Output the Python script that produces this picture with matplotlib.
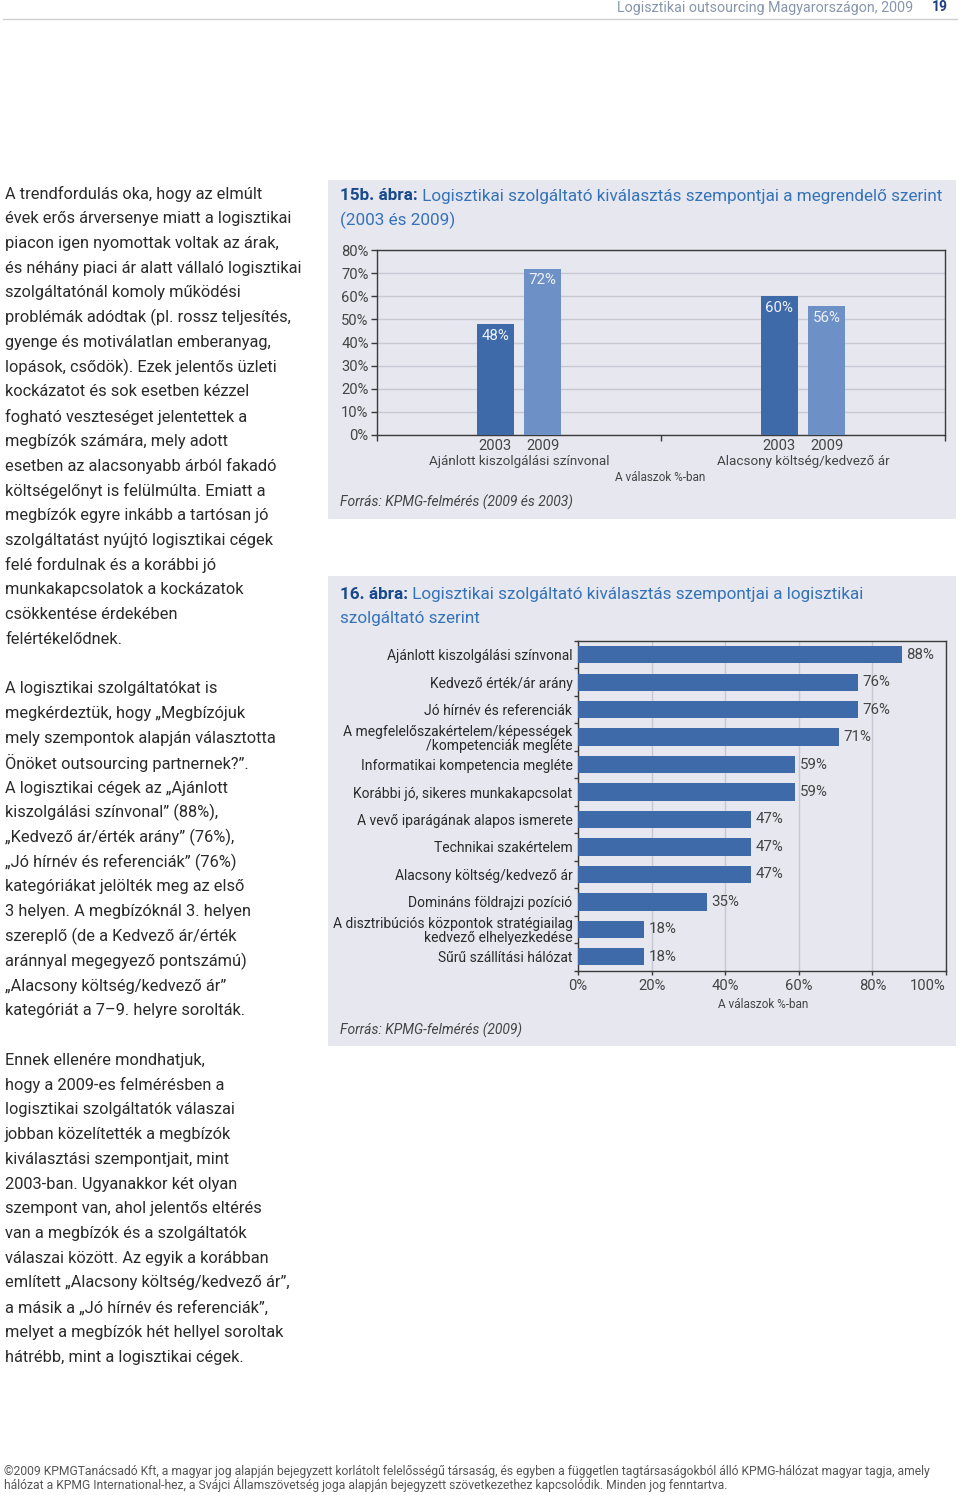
import matplotlib
matplotlib.use('Agg')
import matplotlib.pyplot as plt
from matplotlib.patches import Rectangle
from matplotlib.lines import Line2D

# ---------------- data ----------------
header_title = "Logisztikai outsourcing Magyarországon, 2009"
page_number = "19"

para1_lines = [
    "A trendfordulás oka, hogy az elmúlt",
    "évek erős árversenye miatt a logisztikai",
    "piacon igen nyomottak voltak az árak,",
    "és néhány piaci ár alatt vállaló logisztikai",
    "szolgáltatónál komoly működési",
    "problémák adódtak (pl. rossz teljesítés,",
    "gyenge és motiválatlan emberanyag,",
    "lopások, csődök). Ezek jelentős üzleti",
    "kockázatot és sok esetben kézzel",
    "fogható veszteséget jelentettek a",
    "megbízók számára, mely adott",
    "esetben az alacsonyabb árból fakadó",
    "költségelőnyt is felülmúlta. Emiatt a",
    "megbízók egyre inkább a tartósan jó",
    "szolgáltatást nyújtó logisztikai cégek",
    "felé fordulnak és a korábbi jó",
    "munkakapcsolatok a kockázatok",
    "csökkentése érdekében",
    "felértékelődnek.",
]
para2_lines = [
    "A logisztikai szolgáltatókat is",
    "megkérdeztük, hogy „Megbízójuk",
    "mely szempontok alapján választotta",
    "Önöket outsourcing partnernek?”.",
    "A logisztikai cégek az „Ajánlott",
    "kiszolgálási színvonal” (88%),",
    "„Kedvező ár/érték arány” (76%),",
    "„Jó hírnév és referenciák” (76%)",
    "kategóriákat jelölték meg az első",
    "3 helyen. A megbízóknál 3. helyen",
    "szereplő (de a Kedvező ár/érték",
    "aránnyal megegyező pontszámú)",
    "„Alacsony költség/kedvező ár”",
    "kategóriát a 7–9. helyre sorolták.",
]
para3_lines = [
    "Ennek ellenére mondhatjuk,",
    "hogy a 2009-es felmérésben a",
    "logisztikai szolgáltatók válaszai",
    "jobban közelítették a megbízók",
    "kiválasztási szempontjait, mint",
    "2003-ban. Ugyanakkor két olyan",
    "szempont van, ahol jelentős eltérés",
    "van a megbízók és a szolgáltatók",
    "válaszai között. Az egyik a korábban",
    "említett „Alacsony költség/kedvező ár”,",
    "a másik a „Jó hírnév és referenciák”,",
    "melyet a megbízók hét hellyel soroltak",
    "hátrébb, mint a logisztikai cégek.",
]

fig15_title_bold = "15b. ábra:"
fig15_title_rest = " Logisztikai szolgáltató kiválasztás szempontjai a megrendelő szerint"
fig15_title_line2 = "(2003 és 2009)"
fig15_groups = ["Ajánlott kiszolgálási színvonal", "Alacsony költség/kedvező ár"]
fig15_years = ["2003", "2009"]
fig15_values_2003 = [48, 60]
fig15_values_2009 = [72, 56]
fig15_yticks = [0, 10, 20, 30, 40, 50, 60, 70, 80]
fig15_axis_note = "A válaszok %-ban"
fig15_source = "Forrás: KPMG-felmérés (2009 és 2003)"

fig16_title_bold = "16. ábra:"
fig16_title_rest = " Logisztikai szolgáltató kiválasztás szempontjai a logisztikai"
fig16_title_line2 = "szolgáltató szerint"
fig16_categories = [
    "Ajánlott kiszolgálási színvonal",
    "Kedvező érték/ár arány",
    "Jó hírnév és referenciák",
    "A megfelelőszakértelem/képességek\n/kompetenciák megléte",
    "Informatikai kompetencia megléte",
    "Korábbi jó, sikeres munkakapcsolat",
    "A vevő iparágának alapos ismerete",
    "Technikai szakértelem",
    "Alacsony költség/kedvező ár",
    "Domináns földrajzi pozíció",
    "A disztribúciós központok stratégiailag\nkedvező elhelyezkedése",
    "Sűrű szállítási hálózat",
]
fig16_values = [88, 76, 76, 71, 59, 59, 47, 47, 47, 35, 18, 18]
fig16_xticks = [0, 20, 40, 60, 80, 100]
fig16_axis_note = "A válaszok %-ban"
fig16_source = "Forrás: KPMG-felmérés (2009)"

footer_lines = [
    "©2009 KPMGTanácsadó Kft, a magyar jog alapján bejegyzett korlátolt felelősségű társaság, és egyben a független tagtársaságokból álló KPMG-hálózat magyar tagja, amely",
    "hálózat a KPMG International-hez, a Svájci Államszövetség joga alapján bejegyzett szövetkezethez kapcsolódik. Minden jog fenntartva.",
]

# ---------------- style ----------------
FONT = "Roboto"
plt.rcParams['font.family'] = [FONT, 'DejaVu Sans']
W, H = 960, 1495
fig = plt.figure(figsize=(W / 100, H / 100), dpi=100)
fig.patch.set_facecolor('white')

def fx(x):
    return x / W

def fy(y):
    return 1 - y / H

PANEL = '#e7e7f0'
GRID = '#c8c8d2'
SPINE = '#3a3a3a'
TXT = '#2a2a2a'
GREY = '#444444'
NAVY = '#17498c'
BLUE = '#3573b9'
BAR_DARK = '#3f6aaa'
BAR_LIGHT = '#6d90c6'
PX2PT = 0.72
TICK_SIZE = 10.6
VAL_SIZE = 10.8
TITLE_SIZE = 12.3
GROUP_SIZE = 9.7

# ---------------- header ----------------
fig.text(fx(913), fy(8), header_title, ha='right', va='center', fontsize=10.3,
         color='#8796ad')
fig.text(fx(940), fy(7), page_number, ha='center', va='center', fontsize=10,
         fontweight='bold', color='#1c3f7f')
fig.add_artist(Line2D([fx(3), fx(957)], [fy(19), fy(19)], color='#cfcfcf', lw=1))

# ---------------- body text ----------------
BODY_SIZE = 11.8
LINE = 24.75
y0 = 194
idx = 0
for para in (para1_lines, para2_lines, para3_lines):
    for line in para:
        fig.text(fx(5), fy(y0 + idx * LINE), line, ha='left', va='center',
                 fontsize=BODY_SIZE, color=TXT)
        idx += 1
    idx += 1

# ---------------- panels ----------------
fig.add_artist(Rectangle((fx(328), fy(519)), fx(956) - fx(328), fy(180) - fy(519),
                         transform=fig.transFigure, facecolor=PANEL, edgecolor='none', zorder=0))
fig.add_artist(Rectangle((fx(328), fy(1046)), fx(956) - fx(328), fy(576) - fy(1046),
                         transform=fig.transFigure, facecolor=PANEL, edgecolor='none', zorder=0))

# ---------------- figure 15b ----------------
ax1 = fig.add_axes([fx(377), fy(435), fx(945) - fx(377), fy(250) - fy(435)])
ax1.set_facecolor('none')
x = list(range(len(fig15_groups)))
off = 0.0836
bw = 0.132
b1 = ax1.bar([i - off for i in x], fig15_values_2003, width=bw, color=BAR_DARK, zorder=3)
b2 = ax1.bar([i + off for i in x], fig15_values_2009, width=bw, color=BAR_LIGHT, zorder=3)
for bars, vals in ((b1, fig15_values_2003), (b2, fig15_values_2009)):
    for rect, v in zip(bars, vals):
        ax1.annotate(f"{v}%", xy=(rect.get_x() + rect.get_width() / 2, v),
                     xytext=(0, -12 * PX2PT), textcoords='offset points',
                     ha='center', va='center', fontsize=VAL_SIZE, color='#eef2fa', zorder=4)
ax1.set_xlim(-0.5, 1.5)
ax1.set_ylim(0, 80)
ax1.set_yticks(fig15_yticks)
ax1.set_yticklabels([f"{v}%" for v in fig15_yticks])
ax1.set_xticks([-0.5, 0.5, 1.5])
ax1.set_xticklabels([])
ax1.set_xticks([i - off for i in x] + [i + off for i in x], minor=True)
ax1.set_xticklabels([fig15_years[0]] * len(x) + [fig15_years[1]] * len(x), minor=True)
ax1.tick_params(axis='x', which='major', length=4, width=1, color=SPINE, direction='out')
ax1.tick_params(axis='x', which='minor', length=0, pad=3, labelsize=TICK_SIZE, labelcolor=GREY)
ax1.tick_params(axis='y', length=4, width=1, color=SPINE, direction='out', pad=2,
                labelsize=TICK_SIZE, labelcolor=GREY)
ax1.yaxis.grid(True, color=GRID, lw=1, zorder=0)
ax1.set_axisbelow(True)
for s in ax1.spines.values():
    s.set_color(SPINE)
    s.set_linewidth(1)
for i, g in enumerate(fig15_groups):
    ax1.annotate(g, xy=(i, 0), xycoords=('data', 'axes fraction'),
                 xytext=(0, -(461 - 435) * PX2PT), textcoords='offset points',
                 ha='center', va='center', fontsize=GROUP_SIZE, color=GREY,
                 annotation_clip=False)
fig.text(fx(660), fy(477), fig15_axis_note, ha='center', va='center', fontsize=8.5, color=GREY)
fig.text(fx(340), fy(502), fig15_source, ha='left', va='center', fontsize=10,
         style='italic', color=GREY)

t = fig.text(fx(340), fy(196), fig15_title_bold, ha='left', va='center', fontsize=TITLE_SIZE,
             fontweight='bold', color=NAVY)
ax1.annotate(fig15_title_rest, xy=(1, 0.5), xycoords=t, ha='left', va='center',
             fontsize=TITLE_SIZE, color=BLUE, annotation_clip=False)
fig.text(fx(340), fy(220), fig15_title_line2, ha='left', va='center', fontsize=TITLE_SIZE,
         color=BLUE)

# ---------------- figure 16 ----------------
ax2 = fig.add_axes([fx(578), fy(970.5), fx(946) - fx(578), fy(641) - fy(970.5)])
ax2.set_facecolor('none')
ypos = list(range(len(fig16_categories)))
ax2.barh(ypos, fig16_values, height=0.63, color=BAR_DARK, zorder=3)
for yy, v in zip(ypos, fig16_values):
    ax2.annotate(f"{v}%", xy=(v, yy), xytext=(4.5 * PX2PT, 0), textcoords='offset points',
                 ha='left', va='center', fontsize=VAL_SIZE, color=GREY)
ax2.set_xlim(0, 100)
ax2.set_ylim(len(fig16_categories) - 0.5, -0.5)
ax2.set_yticks(ypos)
ax2.set_yticklabels(fig16_categories, linespacing=1.05)
ax2.set_yticks([i + 0.5 for i in range(-1, len(fig16_categories))], minor=True)
ax2.tick_params(axis='y', which='major', length=0, pad=4, labelsize=10, labelcolor=TXT)
ax2.tick_params(axis='y', which='minor', length=3, width=1, color=SPINE, direction='out')
ax2.set_xticks(fig16_xticks)
xl = ax2.set_xticklabels([f"{v}%" for v in fig16_xticks])
xl[-1].set_ha('right')
ax2.tick_params(axis='x', length=3, width=1, color=SPINE, direction='out', pad=3,
                labelsize=TICK_SIZE, labelcolor=GREY)
ax2.xaxis.grid(True, color=GRID, lw=1, zorder=0)
ax2.set_axisbelow(True)
for s in ax2.spines.values():
    s.set_color(SPINE)
    s.set_linewidth(1)
fig.text(fx(763), fy(1004), fig16_axis_note, ha='center', va='center', fontsize=8.5, color=GREY)
fig.text(fx(340), fy(1030), fig16_source, ha='left', va='center', fontsize=10,
         style='italic', color=GREY)

t = fig.text(fx(340), fy(594), fig16_title_bold, ha='left', va='center', fontsize=TITLE_SIZE,
             fontweight='bold', color=NAVY)
ax2.annotate(fig16_title_rest, xy=(1, 0.5), xycoords=t, ha='left', va='center',
             fontsize=TITLE_SIZE, color=BLUE, annotation_clip=False)
fig.text(fx(340), fy(618), fig16_title_line2, ha='left', va='center', fontsize=TITLE_SIZE,
         color=BLUE)

# ---------------- footer ----------------
fig.text(fx(4), fy(1471), footer_lines[0], ha='left', va='center', fontsize=8.7, color='#555555')
fig.text(fx(4), fy(1485), footer_lines[1], ha='left', va='center', fontsize=8.7, color='#555555')

fig.savefig('out.png', dpi=100, facecolor='white')
